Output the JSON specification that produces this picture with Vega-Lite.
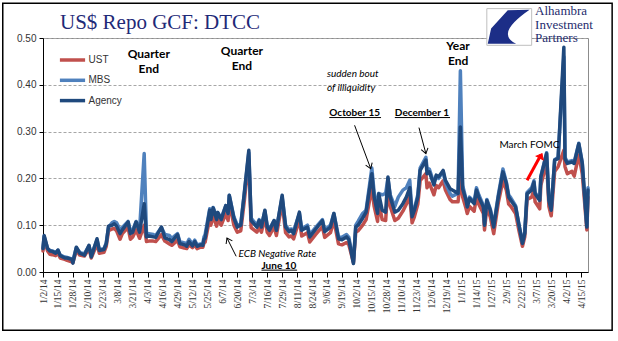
{
  "$schema": "https://vega.github.io/schema/vega-lite/v6.json",
  "width": 545,
  "height": 234,
  "autosize": {"type": "none"},
  "padding": {"left": 43, "top": 38, "right": 30, "bottom": 69},
  "background": "white",
  "title": {"text": "US$ Repo GCF: DTCC", "anchor": "start", "frame": "group", "dx": 17, "offset": -47, "baseline": "alphabetic", "font": "Liberation Serif", "fontSize": 21, "fontWeight": "normal", "color": "#1F2A78"},
  "config": {
    "view": {"stroke": "#8C8C8C", "strokeWidth": 1},
    "font": "Lato",
    "axisX": {"labelOverlap": false}
  },
  "datasets": {
    "repo": [
      {"date": "2014-01-02", "UST": 0.045, "MBS": 0.052, "Agency": 0.050},
      {"date": "2014-01-03", "UST": 0.070, "MBS": 0.076, "Agency": 0.078},
      {"date": "2014-01-06", "UST": 0.045, "MBS": 0.050, "Agency": 0.050},
      {"date": "2014-01-08", "UST": 0.038, "MBS": 0.046, "Agency": 0.045},
      {"date": "2014-01-10", "UST": 0.037, "MBS": 0.045, "Agency": 0.044},
      {"date": "2014-01-13", "UST": 0.035, "MBS": 0.042, "Agency": 0.040},
      {"date": "2014-01-15", "UST": 0.040, "MBS": 0.046, "Agency": 0.047},
      {"date": "2014-01-17", "UST": 0.030, "MBS": 0.036, "Agency": 0.035},
      {"date": "2014-01-21", "UST": 0.027, "MBS": 0.032, "Agency": 0.030},
      {"date": "2014-01-23", "UST": 0.025, "MBS": 0.031, "Agency": 0.030},
      {"date": "2014-01-27", "UST": 0.022, "MBS": 0.028, "Agency": 0.027},
      {"date": "2014-01-28", "UST": 0.020, "MBS": 0.025, "Agency": 0.019},
      {"date": "2014-01-31", "UST": 0.046, "MBS": 0.052, "Agency": 0.053},
      {"date": "2014-02-03", "UST": 0.036, "MBS": 0.042, "Agency": 0.040},
      {"date": "2014-02-05", "UST": 0.035, "MBS": 0.040, "Agency": 0.038},
      {"date": "2014-02-07", "UST": 0.034, "MBS": 0.039, "Agency": 0.036},
      {"date": "2014-02-11", "UST": 0.050, "MBS": 0.056, "Agency": 0.057},
      {"date": "2014-02-13", "UST": 0.030, "MBS": 0.036, "Agency": 0.032},
      {"date": "2014-02-18", "UST": 0.060, "MBS": 0.068, "Agency": 0.071},
      {"date": "2014-02-20", "UST": 0.040, "MBS": 0.048, "Agency": 0.046},
      {"date": "2014-02-24", "UST": 0.042, "MBS": 0.050, "Agency": 0.048},
      {"date": "2014-02-26", "UST": 0.055, "MBS": 0.062, "Agency": 0.060},
      {"date": "2014-02-28", "UST": 0.088, "MBS": 0.096, "Agency": 0.098},
      {"date": "2014-03-03", "UST": 0.092, "MBS": 0.105, "Agency": 0.100},
      {"date": "2014-03-05", "UST": 0.093, "MBS": 0.108, "Agency": 0.103},
      {"date": "2014-03-07", "UST": 0.088, "MBS": 0.105, "Agency": 0.098},
      {"date": "2014-03-10", "UST": 0.070, "MBS": 0.090, "Agency": 0.082},
      {"date": "2014-03-12", "UST": 0.082, "MBS": 0.095, "Agency": 0.090},
      {"date": "2014-03-17", "UST": 0.095, "MBS": 0.108, "Agency": 0.107},
      {"date": "2014-03-19", "UST": 0.070, "MBS": 0.088, "Agency": 0.082},
      {"date": "2014-03-21", "UST": 0.075, "MBS": 0.090, "Agency": 0.085},
      {"date": "2014-03-24", "UST": 0.090, "MBS": 0.108, "Agency": 0.107},
      {"date": "2014-03-27", "UST": 0.072, "MBS": 0.090, "Agency": 0.085},
      {"date": "2014-03-31", "UST": 0.100, "MBS": 0.253, "Agency": 0.146},
      {"date": "2014-04-02", "UST": 0.065, "MBS": 0.080, "Agency": 0.075},
      {"date": "2014-04-04", "UST": 0.066, "MBS": 0.082, "Agency": 0.077},
      {"date": "2014-04-08", "UST": 0.066, "MBS": 0.080, "Agency": 0.075},
      {"date": "2014-04-10", "UST": 0.065, "MBS": 0.078, "Agency": 0.074},
      {"date": "2014-04-15", "UST": 0.080, "MBS": 0.095, "Agency": 0.096},
      {"date": "2014-04-18", "UST": 0.066, "MBS": 0.080, "Agency": 0.073},
      {"date": "2014-04-22", "UST": 0.060, "MBS": 0.078, "Agency": 0.069},
      {"date": "2014-04-24", "UST": 0.057, "MBS": 0.072, "Agency": 0.065},
      {"date": "2014-04-29", "UST": 0.068, "MBS": 0.082, "Agency": 0.080},
      {"date": "2014-05-01", "UST": 0.054, "MBS": 0.065, "Agency": 0.061},
      {"date": "2014-05-05", "UST": 0.051, "MBS": 0.062, "Agency": 0.058},
      {"date": "2014-05-07", "UST": 0.050, "MBS": 0.060, "Agency": 0.055},
      {"date": "2014-05-09", "UST": 0.058, "MBS": 0.070, "Agency": 0.065},
      {"date": "2014-05-12", "UST": 0.052, "MBS": 0.060, "Agency": 0.056},
      {"date": "2014-05-14", "UST": 0.058, "MBS": 0.068, "Agency": 0.065},
      {"date": "2014-05-16", "UST": 0.050, "MBS": 0.058, "Agency": 0.055},
      {"date": "2014-05-19", "UST": 0.053, "MBS": 0.060, "Agency": 0.058},
      {"date": "2014-05-21", "UST": 0.053, "MBS": 0.060, "Agency": 0.057},
      {"date": "2014-05-22", "UST": 0.062, "MBS": 0.075, "Agency": 0.070},
      {"date": "2014-05-23", "UST": 0.064, "MBS": 0.080, "Agency": 0.072},
      {"date": "2014-05-27", "UST": 0.115, "MBS": 0.135, "Agency": 0.132},
      {"date": "2014-05-28", "UST": 0.100, "MBS": 0.118, "Agency": 0.112},
      {"date": "2014-05-30", "UST": 0.120, "MBS": 0.138, "Agency": 0.137},
      {"date": "2014-06-02", "UST": 0.098, "MBS": 0.118, "Agency": 0.112},
      {"date": "2014-06-03", "UST": 0.112, "MBS": 0.127, "Agency": 0.127},
      {"date": "2014-06-06", "UST": 0.100, "MBS": 0.115, "Agency": 0.112},
      {"date": "2014-06-10", "UST": 0.125, "MBS": 0.142, "Agency": 0.142},
      {"date": "2014-06-12", "UST": 0.110, "MBS": 0.125, "Agency": 0.125},
      {"date": "2014-06-13", "UST": 0.150, "MBS": 0.164, "Agency": 0.164},
      {"date": "2014-06-17", "UST": 0.100, "MBS": 0.118, "Agency": 0.115},
      {"date": "2014-06-20", "UST": 0.085, "MBS": 0.100, "Agency": 0.096},
      {"date": "2014-06-23", "UST": 0.088, "MBS": 0.102, "Agency": 0.100},
      {"date": "2014-06-26", "UST": 0.150, "MBS": 0.165, "Agency": 0.167},
      {"date": "2014-06-30", "UST": 0.240, "MBS": 0.255, "Agency": 0.260},
      {"date": "2014-07-02", "UST": 0.095, "MBS": 0.115, "Agency": 0.110},
      {"date": "2014-07-07", "UST": 0.085, "MBS": 0.100, "Agency": 0.096},
      {"date": "2014-07-09", "UST": 0.095, "MBS": 0.112, "Agency": 0.110},
      {"date": "2014-07-11", "UST": 0.085, "MBS": 0.100, "Agency": 0.096},
      {"date": "2014-07-14", "UST": 0.118, "MBS": 0.130, "Agency": 0.132},
      {"date": "2014-07-16", "UST": 0.085, "MBS": 0.100, "Agency": 0.096},
      {"date": "2014-07-18", "UST": 0.078, "MBS": 0.092, "Agency": 0.089},
      {"date": "2014-07-22", "UST": 0.097, "MBS": 0.110, "Agency": 0.110},
      {"date": "2014-07-24", "UST": 0.078, "MBS": 0.092, "Agency": 0.089},
      {"date": "2014-07-29", "UST": 0.148, "MBS": 0.160, "Agency": 0.164},
      {"date": "2014-08-01", "UST": 0.084, "MBS": 0.100, "Agency": 0.096},
      {"date": "2014-08-04", "UST": 0.075, "MBS": 0.090, "Agency": 0.086},
      {"date": "2014-08-06", "UST": 0.077, "MBS": 0.092, "Agency": 0.089},
      {"date": "2014-08-08", "UST": 0.071, "MBS": 0.088, "Agency": 0.082},
      {"date": "2014-08-13", "UST": 0.112, "MBS": 0.125, "Agency": 0.128},
      {"date": "2014-08-15", "UST": 0.077, "MBS": 0.092, "Agency": 0.089},
      {"date": "2014-08-20", "UST": 0.084, "MBS": 0.100, "Agency": 0.096},
      {"date": "2014-08-22", "UST": 0.064, "MBS": 0.080, "Agency": 0.075},
      {"date": "2014-08-27", "UST": 0.080, "MBS": 0.095, "Agency": 0.091},
      {"date": "2014-09-02", "UST": 0.097, "MBS": 0.112, "Agency": 0.110},
      {"date": "2014-09-04", "UST": 0.074, "MBS": 0.090, "Agency": 0.086},
      {"date": "2014-09-09", "UST": 0.084, "MBS": 0.100, "Agency": 0.096},
      {"date": "2014-09-12", "UST": 0.110, "MBS": 0.125, "Agency": 0.125},
      {"date": "2014-09-16", "UST": 0.060, "MBS": 0.075, "Agency": 0.071},
      {"date": "2014-09-19", "UST": 0.058, "MBS": 0.074, "Agency": 0.069},
      {"date": "2014-09-23", "UST": 0.063, "MBS": 0.080, "Agency": 0.075},
      {"date": "2014-09-25", "UST": 0.058, "MBS": 0.074, "Agency": 0.069},
      {"date": "2014-09-29", "UST": 0.020, "MBS": 0.022, "Agency": 0.018},
      {"date": "2014-10-01", "UST": 0.085, "MBS": 0.100, "Agency": 0.096},
      {"date": "2014-10-03", "UST": 0.088, "MBS": 0.108, "Agency": 0.100},
      {"date": "2014-10-07", "UST": 0.100, "MBS": 0.125, "Agency": 0.115},
      {"date": "2014-10-10", "UST": 0.112, "MBS": 0.132, "Agency": 0.128},
      {"date": "2014-10-15", "UST": 0.180, "MBS": 0.222, "Agency": 0.210},
      {"date": "2014-10-17", "UST": 0.140, "MBS": 0.170, "Agency": 0.160},
      {"date": "2014-10-20", "UST": 0.108, "MBS": 0.135, "Agency": 0.125},
      {"date": "2014-10-21", "UST": 0.150, "MBS": 0.168, "Agency": 0.167},
      {"date": "2014-10-24", "UST": 0.112, "MBS": 0.165, "Agency": 0.132},
      {"date": "2014-10-27", "UST": 0.110, "MBS": 0.168, "Agency": 0.128},
      {"date": "2014-10-29", "UST": 0.185, "MBS": 0.200, "Agency": 0.203},
      {"date": "2014-10-31", "UST": 0.140, "MBS": 0.165, "Agency": 0.160},
      {"date": "2014-11-04", "UST": 0.110, "MBS": 0.140, "Agency": 0.128},
      {"date": "2014-11-07", "UST": 0.115, "MBS": 0.160, "Agency": 0.132},
      {"date": "2014-11-11", "UST": 0.130, "MBS": 0.175, "Agency": 0.146},
      {"date": "2014-11-14", "UST": 0.145, "MBS": 0.180, "Agency": 0.160},
      {"date": "2014-11-17", "UST": 0.160, "MBS": 0.196, "Agency": 0.180},
      {"date": "2014-11-19", "UST": 0.105, "MBS": 0.125, "Agency": 0.118},
      {"date": "2014-11-21", "UST": 0.118, "MBS": 0.135, "Agency": 0.132},
      {"date": "2014-11-24", "UST": 0.145, "MBS": 0.165, "Agency": 0.160},
      {"date": "2014-11-26", "UST": 0.195, "MBS": 0.222, "Agency": 0.217},
      {"date": "2014-12-01", "UST": 0.210, "MBS": 0.245, "Agency": 0.239},
      {"date": "2014-12-02", "UST": 0.180, "MBS": 0.222, "Agency": 0.210},
      {"date": "2014-12-04", "UST": 0.190, "MBS": 0.220, "Agency": 0.214},
      {"date": "2014-12-08", "UST": 0.165, "MBS": 0.190, "Agency": 0.186},
      {"date": "2014-12-10", "UST": 0.185, "MBS": 0.205, "Agency": 0.207},
      {"date": "2014-12-12", "UST": 0.180, "MBS": 0.200, "Agency": 0.203},
      {"date": "2014-12-16", "UST": 0.195, "MBS": 0.215, "Agency": 0.217},
      {"date": "2014-12-18", "UST": 0.175, "MBS": 0.190, "Agency": 0.196},
      {"date": "2014-12-22", "UST": 0.155, "MBS": 0.168, "Agency": 0.178},
      {"date": "2014-12-24", "UST": 0.150, "MBS": 0.162, "Agency": 0.175},
      {"date": "2014-12-29", "UST": 0.150, "MBS": 0.168, "Agency": 0.168},
      {"date": "2014-12-31", "UST": 0.200, "MBS": 0.430, "Agency": 0.310},
      {"date": "2015-01-02", "UST": 0.160, "MBS": 0.185, "Agency": 0.178},
      {"date": "2015-01-05", "UST": 0.135, "MBS": 0.155, "Agency": 0.153},
      {"date": "2015-01-06", "UST": 0.125, "MBS": 0.140, "Agency": 0.139},
      {"date": "2015-01-08", "UST": 0.140, "MBS": 0.160, "Agency": 0.157},
      {"date": "2015-01-12", "UST": 0.130, "MBS": 0.150, "Agency": 0.146},
      {"date": "2015-01-14", "UST": 0.160, "MBS": 0.180, "Agency": 0.175},
      {"date": "2015-01-16", "UST": 0.145, "MBS": 0.165, "Agency": 0.160},
      {"date": "2015-01-20", "UST": 0.125, "MBS": 0.142, "Agency": 0.139},
      {"date": "2015-01-21", "UST": 0.090, "MBS": 0.105, "Agency": 0.100},
      {"date": "2015-01-23", "UST": 0.138, "MBS": 0.155, "Agency": 0.153},
      {"date": "2015-01-26", "UST": 0.118, "MBS": 0.135, "Agency": 0.132},
      {"date": "2015-01-29", "UST": 0.082, "MBS": 0.100, "Agency": 0.096},
      {"date": "2015-02-02", "UST": 0.148, "MBS": 0.165, "Agency": 0.160},
      {"date": "2015-02-06", "UST": 0.195, "MBS": 0.220, "Agency": 0.214},
      {"date": "2015-02-09", "UST": 0.175, "MBS": 0.192, "Agency": 0.189},
      {"date": "2015-02-11", "UST": 0.145, "MBS": 0.165, "Agency": 0.160},
      {"date": "2015-02-13", "UST": 0.140, "MBS": 0.158, "Agency": 0.153},
      {"date": "2015-02-17", "UST": 0.125, "MBS": 0.142, "Agency": 0.139},
      {"date": "2015-02-20", "UST": 0.088, "MBS": 0.100, "Agency": 0.100},
      {"date": "2015-02-23", "UST": 0.055, "MBS": 0.064, "Agency": 0.061},
      {"date": "2015-02-25", "UST": 0.075, "MBS": 0.085, "Agency": 0.082},
      {"date": "2015-02-27", "UST": 0.155, "MBS": 0.170, "Agency": 0.167},
      {"date": "2015-03-03", "UST": 0.160, "MBS": 0.180, "Agency": 0.175},
      {"date": "2015-03-05", "UST": 0.175, "MBS": 0.195, "Agency": 0.192},
      {"date": "2015-03-06", "UST": 0.150, "MBS": 0.170, "Agency": 0.167},
      {"date": "2015-03-10", "UST": 0.135, "MBS": 0.155, "Agency": 0.153},
      {"date": "2015-03-11", "UST": 0.185, "MBS": 0.205, "Agency": 0.203},
      {"date": "2015-03-16", "UST": 0.235, "MBS": 0.255, "Agency": 0.253},
      {"date": "2015-03-18", "UST": 0.140, "MBS": 0.155, "Agency": 0.153},
      {"date": "2015-03-20", "UST": 0.120, "MBS": 0.135, "Agency": 0.132},
      {"date": "2015-03-23", "UST": 0.215, "MBS": 0.240, "Agency": 0.239},
      {"date": "2015-03-26", "UST": 0.225, "MBS": 0.245, "Agency": 0.242},
      {"date": "2015-03-31", "UST": 0.260, "MBS": 0.460, "Agency": 0.480},
      {"date": "2015-04-01", "UST": 0.225, "MBS": 0.245, "Agency": 0.242},
      {"date": "2015-04-03", "UST": 0.210, "MBS": 0.235, "Agency": 0.232},
      {"date": "2015-04-07", "UST": 0.215, "MBS": 0.238, "Agency": 0.235},
      {"date": "2015-04-09", "UST": 0.205, "MBS": 0.235, "Agency": 0.232},
      {"date": "2015-04-13", "UST": 0.250, "MBS": 0.275, "Agency": 0.274},
      {"date": "2015-04-16", "UST": 0.210, "MBS": 0.235, "Agency": 0.232},
      {"date": "2015-04-20", "UST": 0.090, "MBS": 0.098, "Agency": 0.096},
      {"date": "2015-04-21", "UST": 0.160, "MBS": 0.180, "Agency": 0.175}
    ]
  },
  "layer": [
    {
      "data": {"name": "repo"},
      "transform": [{"fold": ["UST", "MBS", "Agency"], "as": ["series", "value"]}],
      "mark": {"type": "line", "strokeWidth": 3.5, "strokeJoin": "round", "strokeCap": "round"},
      "encoding": {
        "x": {"field": "date", "type": "temporal",
          "scale": {"type": "utc", "domain": [{"year": 2014, "month": 1, "date": 2, "utc": true}, {"year": 2015, "month": 4, "date": 21, "utc": true}]},
          "axis": {"title": null, "grid": false, "tickCount": 60, "labelAngle": -90, "labelExpr": "utcFormat(datum.value, '%-m/%-d/%y')", "labelFont": "Liberation Serif", "labelFontSize": 9.5, "labelColor": "#333333", "labelPadding": 2, "labelOverlap": false, "labelFlush": false, "labelBound": false, "tickSize": 5, "tickColor": "black", "domainColor": "black", "domainWidth": 1,
            "values": [
              {"year": 2014, "month": 1, "date": 2, "utc": true}, {"year": 2014, "month": 1, "date": 15, "utc": true}, {"year": 2014, "month": 1, "date": 28, "utc": true},
              {"year": 2014, "month": 2, "date": 10, "utc": true}, {"year": 2014, "month": 2, "date": 23, "utc": true}, {"year": 2014, "month": 3, "date": 8, "utc": true},
              {"year": 2014, "month": 3, "date": 21, "utc": true}, {"year": 2014, "month": 4, "date": 3, "utc": true}, {"year": 2014, "month": 4, "date": 16, "utc": true},
              {"year": 2014, "month": 4, "date": 29, "utc": true}, {"year": 2014, "month": 5, "date": 12, "utc": true}, {"year": 2014, "month": 5, "date": 25, "utc": true},
              {"year": 2014, "month": 6, "date": 7, "utc": true}, {"year": 2014, "month": 6, "date": 20, "utc": true}, {"year": 2014, "month": 7, "date": 3, "utc": true},
              {"year": 2014, "month": 7, "date": 16, "utc": true}, {"year": 2014, "month": 7, "date": 29, "utc": true}, {"year": 2014, "month": 8, "date": 11, "utc": true},
              {"year": 2014, "month": 8, "date": 24, "utc": true}, {"year": 2014, "month": 9, "date": 6, "utc": true}, {"year": 2014, "month": 9, "date": 19, "utc": true},
              {"year": 2014, "month": 10, "date": 2, "utc": true}, {"year": 2014, "month": 10, "date": 15, "utc": true}, {"year": 2014, "month": 10, "date": 28, "utc": true},
              {"year": 2014, "month": 11, "date": 10, "utc": true}, {"year": 2014, "month": 11, "date": 23, "utc": true}, {"year": 2014, "month": 12, "date": 6, "utc": true},
              {"year": 2014, "month": 12, "date": 19, "utc": true}, {"year": 2015, "month": 1, "date": 1, "utc": true}, {"year": 2015, "month": 1, "date": 14, "utc": true},
              {"year": 2015, "month": 1, "date": 27, "utc": true}, {"year": 2015, "month": 2, "date": 9, "utc": true}, {"year": 2015, "month": 2, "date": 22, "utc": true},
              {"year": 2015, "month": 3, "date": 7, "utc": true}, {"year": 2015, "month": 3, "date": 20, "utc": true}, {"year": 2015, "month": 4, "date": 2, "utc": true},
              {"year": 2015, "month": 4, "date": 15, "utc": true}
            ]}},
        "y": {"field": "value", "type": "quantitative",
          "scale": {"domain": [0, 0.5], "nice": false, "zero": false},
          "axis": {"title": null, "values": [0, 0.1, 0.2, 0.3, 0.4, 0.5], "format": ".2f", "grid": true, "gridDash": [3, 2], "gridColor": "#A6A6A6", "gridWidth": 1, "labelFont": "Liberation Sans", "labelFontSize": 10, "labelColor": "#333333", "labelPadding": 3, "tickSize": 4, "tickColor": "black", "domainColor": "black", "domainWidth": 1}},
        "color": {"field": "series", "type": "nominal",
          "scale": {"domain": ["UST", "MBS", "Agency"], "range": ["#C0504D", "#4F81BD", "#1F497D"]},
          "legend": {"orient": "none", "legendX": 17, "legendY": 9.5, "title": null, "symbolType": "M -1.2 0 L 1.2 0", "symbolSize": 441, "symbolStrokeWidth": 3.5, "labelFont": "Liberation Sans", "labelFontSize": 10, "labelColor": "#333333", "labelOffset": 3.5, "rowPadding": 0.3}}
      }
    },
    {
      "data": {"values": [{}]},
      "mark": {"type": "rect", "filled": false, "stroke": "black", "strokeWidth": 1.5},
      "encoding": {
        "x": {"datum": {"year": 2013, "month": 11, "date": 28, "utc": true}, "type": "temporal"},
        "x2": {"datum": {"year": 2015, "month": 5, "date": 12, "utc": true}},
        "y": {"datum": -0.1246, "type": "quantitative"},
        "y2": {"datum": 0.574}
      }
    },
    {
      "data": {"values": [
        {"label": "Quarter\nEnd", "date": "2014-04-04", "v": 0.477},
        {"label": "Quarter\nEnd", "date": "2014-06-24", "v": 0.4825},
        {"label": "Year\nEnd", "date": "2014-12-29", "v": 0.493}
      ]},
      "mark": {"type": "text", "font": "Lato", "fontSize": 12, "fontWeight": "bold", "align": "center", "baseline": "top", "lineBreak": "\n", "lineHeight": 15, "color": "black"},
      "encoding": {
        "x": {"field": "date", "type": "temporal"},
        "y": {"field": "v", "type": "quantitative"},
        "text": {"field": "label"}
      }
    },
    {
      "data": {"values": [
        {"label": "October 15", "date": "2014-09-08", "v": 0.351},
        {"label": "December 1", "date": "2014-11-04", "v": 0.351},
        {"label": "June 10", "date": "2014-07-11", "v": 0.0244}
      ]},
      "mark": {"type": "text", "font": "Lato", "fontSize": 10, "fontWeight": "bold", "align": "left", "baseline": "top", "color": "black"},
      "encoding": {
        "x": {"field": "date", "type": "temporal"},
        "y": {"field": "v", "type": "quantitative"},
        "text": {"field": "label"}
      }
    },
    {
      "data": {"values": [
        {"label": "sudden bout\nof illiquidity", "date": "2014-09-06", "v": 0.434},
        {"label": "ECB Negative Rate", "date": "2014-06-21", "v": 0.050}
      ]},
      "mark": {"type": "text", "font": "Lato", "fontSize": 10, "fontStyle": "italic", "align": "left", "baseline": "top", "lineBreak": "\n", "lineHeight": 14, "color": "black"},
      "encoding": {
        "x": {"field": "date", "type": "temporal"},
        "y": {"field": "v", "type": "quantitative"},
        "text": {"field": "label"}
      }
    },
    {
      "data": {"values": [
        {"label": "March FOMC", "date": "2015-02-03", "v": 0.283}
      ]},
      "mark": {"type": "text", "font": "Lato", "fontSize": 10, "align": "left", "baseline": "top", "color": "black"},
      "encoding": {
        "x": {"field": "date", "type": "temporal"},
        "y": {"field": "v", "type": "quantitative"},
        "text": {"field": "label"}
      }
    },
    {
      "data": {"values": [
        {"d1": "2014-09-08", "d2": "2014-10-23", "v": 0.330},
        {"d1": "2014-11-04", "d2": "2014-12-22", "v": 0.330},
        {"d1": "2014-07-11", "d2": "2014-08-11", "v": 0.004}
      ]},
      "mark": {"type": "rule", "color": "black", "strokeWidth": 1},
      "encoding": {
        "x": {"field": "d1", "type": "temporal"},
        "x2": {"field": "d2"},
        "y": {"field": "v", "type": "quantitative"}
      }
    },
    {
      "data": {"values": [
        {"d1": "2014-09-30", "v1": 0.3135, "d2": "2014-10-14", "v2": 0.221},
        {"d1": "2014-11-25", "v1": 0.3085, "d2": "2014-12-01", "v2": 0.253},
        {"d1": "2014-06-19", "v1": 0.0335, "d2": "2014-06-11", "v2": 0.0727}
      ]},
      "mark": {"type": "rule", "color": "black", "strokeWidth": 1},
      "encoding": {
        "x": {"field": "d1", "type": "temporal"},
        "x2": {"field": "d2"},
        "y": {"field": "v1", "type": "quantitative"},
        "y2": {"field": "v2"}
      }
    },
    {
      "data": {"values": [
        {"d1": "2015-02-27", "v1": 0.196, "d2": "2015-03-11", "v2": 0.250}
      ]},
      "mark": {"type": "rule", "color": "#FF0000", "strokeWidth": 3},
      "encoding": {
        "x": {"field": "d1", "type": "temporal"},
        "x2": {"field": "d2"},
        "y": {"field": "v1", "type": "quantitative"},
        "y2": {"field": "v2"}
      }
    },
    {
      "data": {"values": [{}]},
      "mark": {"type": "point", "shape": "M -0.7 1 L 0 0 L 0.7 1", "filled": false, "stroke": "black", "strokeWidth": 1, "size": 100, "angle": 159, "opacity": 1},
      "encoding": {
        "x": {"datum": {"year": 2014, "month": 10, "date": 14, "utc": true}, "type": "temporal"},
        "y": {"datum": 0.221, "type": "quantitative"}
      }
    },
    {
      "data": {"values": [{}]},
      "mark": {"type": "point", "shape": "M -0.7 1 L 0 0 L 0.7 1", "filled": false, "stroke": "black", "strokeWidth": 1, "size": 100, "angle": 165, "opacity": 1},
      "encoding": {
        "x": {"datum": {"year": 2014, "month": 12, "date": 1, "utc": true}, "type": "temporal"},
        "y": {"datum": 0.253, "type": "quantitative"}
      }
    },
    {
      "data": {"values": [{}]},
      "mark": {"type": "point", "shape": "M -0.7 1 L 0 0 L 0.7 1", "filled": false, "stroke": "black", "strokeWidth": 1, "size": 100, "angle": 333, "opacity": 1},
      "encoding": {
        "x": {"datum": {"year": 2014, "month": 6, "date": 11, "utc": true}, "type": "temporal"},
        "y": {"datum": 0.0727, "type": "quantitative"}
      }
    },
    {
      "data": {"values": [{}]},
      "mark": {"type": "point", "shape": "M -0.8 1 L 0 0 L 0.8 1 Z", "filled": true, "fill": "#FF0000", "stroke": "#FF0000", "strokeWidth": 1, "size": 100, "angle": 28, "opacity": 1},
      "encoding": {
        "x": {"datum": {"year": 2015, "month": 3, "date": 12, "utc": true}, "type": "temporal"},
        "y": {"datum": 0.253, "type": "quantitative"}
      }
    },
    {
      "data": {"values": [{}]},
      "mark": {"type": "rect", "fill": "white", "stroke": "#BFBFBF", "strokeWidth": 1},
      "encoding": {
        "x": {"datum": {"year": 2015, "month": 1, "date": 23, "utc": true}, "type": "temporal"},
        "x2": {"datum": {"year": 2015, "month": 3, "date": 3, "utc": true}},
        "y": {"datum": 0.4844, "type": "quantitative"},
        "y2": {"datum": 0.5628}
      }
    },
    {
      "data": {"values": [{}]},
      "mark": {"type": "point", "shape": "M 0.93 -0.77 L -0.04 -0.74 L -0.78 0.07 L -0.93 0.74 L 0.33 0.74 Q -0.63 0.3 0.93 -0.77 Z", "filled": true, "fill": "#1C2E87", "strokeWidth": 0, "size": 2025, "opacity": 1},
      "encoding": {
        "x": {"datum": {"year": 2015, "month": 2, "date": 11, "utc": true}, "type": "temporal"},
        "y": {"datum": 0.5235, "type": "quantitative"}
      }
    },
    {
      "data": {"values": [{}]},
      "mark": {"type": "text", "text": "Alhambra\nInvestment\nPartners", "lineBreak": "\n", "lineHeight": 13.5, "font": "Liberation Serif", "fontSize": 13, "align": "left", "baseline": "top", "color": "#1F2D6E"},
      "encoding": {
        "x": {"datum": {"year": 2015, "month": 3, "date": 6, "utc": true}, "type": "temporal"},
        "y": {"datum": 0.570, "type": "quantitative"}
      }
    }
  ]
}
